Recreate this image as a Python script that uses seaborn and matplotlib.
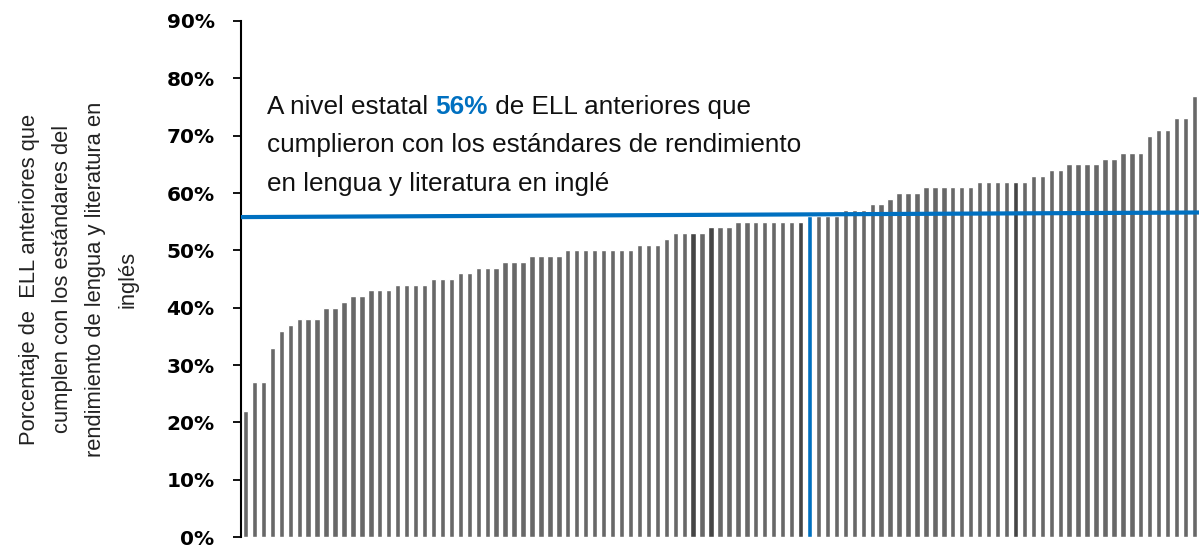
import numpy as np
import pandas as pd
import matplotlib
matplotlib.use("Agg")
import matplotlib.pyplot as plt
import matplotlib.font_manager as fm
import seaborn as sns

# share of former ELLs meeting ELA standards, one bar per district (sorted)
pct_met = [22, 27, 27, 33, 36, 37, 38, 38, 38, 40, 40, 41, 42, 42, 43, 43, 43,
           44, 44, 44, 44, 45, 45, 45, 46, 46, 47, 47, 47, 48, 48, 48,
           49, 49, 49, 49, 50, 50, 50, 50, 50, 50, 50, 50, 51, 51, 51, 52,
           53, 53, 53, 53, 54, 54, 54, 55, 55, 55, 55, 55, 55, 55, 55, 56,
           56, 56, 56, 57, 57, 57, 58, 58, 59, 60, 60, 60, 61, 61, 61, 61,
           61, 61, 62, 62, 62, 62, 62, 62, 63, 63, 64, 64, 65, 65, 65, 65,
           66, 66, 67, 67, 67, 70, 71, 71, 73, 73, 77]
highlight_dark = [50, 52, 62, 86]
state_bar = 63
state_line = [55.8, 56.6]
y_ticks = [0, 10, 20, 30, 40, 50, 60, 70, 80, 90]

grey = "#686868"
dark = "#454545"
blue = "#0070C0"

sns.set_style("white")
names = {f.name for f in fm.fontManager.ttflist}
narrow = "Liberation Sans Narrow" if "Liberation Sans Narrow" in names else "Liberation Sans"
plt.rcParams["font.family"] = ["DejaVu Sans"]

df = pd.DataFrame({"idx": np.arange(len(pct_met)), "pct": pct_met})
colors = [grey] * len(pct_met)
for i in highlight_dark:
    colors[i] = dark
colors[state_bar] = blue

fig = plt.figure(figsize=(11.99, 5.48), dpi=100)
ax = fig.add_axes([0.201, 0.020, 0.799, 0.9417])

sns.barplot(data=df, x="idx", y="pct", hue="idx", palette=colors, legend=False,
            width=0.6, saturation=1, ax=ax)

n = len(pct_met)
ax.set_xlim(-0.5, n - 0.5)
ax.set_ylim(0, 90)

# state average line
ax.plot([-0.5, n - 0.5], state_line, color=blue, linewidth=3, solid_capstyle="butt", zorder=5)

ax.set_yticks(y_ticks)
ax.set_yticklabels([f"{t}%" for t in y_ticks], fontsize=14.5, fontweight="bold")
ax.tick_params(axis="y", length=6, width=1.3, pad=13, direction="out", left=True, colors="black")
ax.tick_params(axis="x", bottom=False, labelbottom=False)
ax.set_xlabel("")
ax.set_ylabel("Porcentaje de  ELL anteriores que\ncumplen con los estándares del\n"
              "rendimiento de lengua y literatura en\ninglés",
              fontsize=15.8, family=narrow, linespacing=1.75, labelpad=20, color="#222222")

for s in ["top", "right", "bottom"]:
    ax.spines[s].set_visible(False)
ax.spines["left"].set_color("black")
ax.spines["left"].set_linewidth(1.5)

# annotation with the bold blue number
fs = 18.8
t1 = ax.text(2.4, 72.9, "A nivel estatal ", fontsize=fs, family=narrow, va="bottom", color="#111111")
t2 = ax.annotate("56%", xycoords=t1, xy=(1, 0), va="bottom", fontsize=fs, family=narrow,
                 fontweight="bold", color=blue)
ax.annotate(" de ELL anteriores que", xycoords=t2, xy=(1, 0), va="bottom", fontsize=fs,
            family=narrow, color="#111111")
ax.text(2.4, 66.2, "cumplieron con los estándares de rendimiento", fontsize=fs, family=narrow,
        va="bottom", color="#111111")
ax.text(2.4, 59.5, "en lengua y literatura en inglé", fontsize=fs, family=narrow,
        va="bottom", color="#111111")

plt.savefig("out.png", dpi=100)
